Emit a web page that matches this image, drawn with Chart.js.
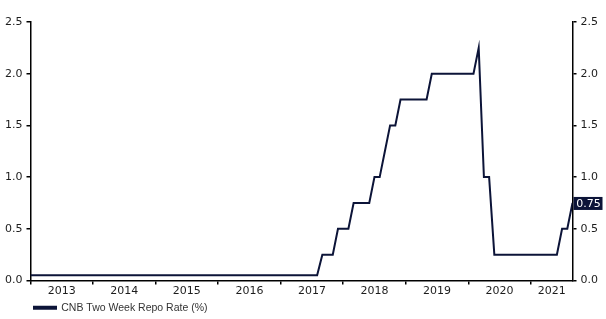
<!DOCTYPE html>
<html>
<head>
<meta charset="utf-8">
<script src="https://cdn.jsdelivr.net/npm/chart.js@4.4.1/dist/chart.umd.min.js"></script>
<style>
  html, body { margin: 0; padding: 0; background: #fff; }
  #wrap { width: 606px; height: 319px; position: relative; }
</style>
</head>
<body>
<div id="wrap"><canvas id="chart"></canvas></div>
<script>
const SERIES_LABEL = 'CNB Two Week Repo Rate (%)';
const START_YEAR = 2013; // first monthly point = Jan 2013
const yearLabels = ['2013', '2014', '2015', '2016', '2017', '2018', '2019', '2020', '2021'];
const yTicks = [0, 0.5, 1, 1.5, 2, 2.5];

// monthly readings, one row per year (2021 runs to Sep)
const repoRate = [
  0.05, 0.05, 0.05, 0.05, 0.05, 0.05, 0.05, 0.05, 0.05, 0.05, 0.05, 0.05,
  0.05, 0.05, 0.05, 0.05, 0.05, 0.05, 0.05, 0.05, 0.05, 0.05, 0.05, 0.05,
  0.05, 0.05, 0.05, 0.05, 0.05, 0.05, 0.05, 0.05, 0.05, 0.05, 0.05, 0.05,
  0.05, 0.05, 0.05, 0.05, 0.05, 0.05, 0.05, 0.05, 0.05, 0.05, 0.05, 0.05,
  0.05, 0.05, 0.05, 0.05, 0.05, 0.05, 0.05, 0.05, 0.25, 0.25, 0.25, 0.5,
  0.5, 0.5, 0.75, 0.75, 0.75, 0.75, 1.0, 1.0, 1.25, 1.5, 1.5, 1.75,
  1.75, 1.75, 1.75, 1.75, 1.75, 2.0, 2.0, 2.0, 2.0, 2.0, 2.0, 2.0,
  2.0, 2.0, 2.25, 1.0, 1.0, 0.25, 0.25, 0.25, 0.25, 0.25, 0.25, 0.25,
  0.25, 0.25, 0.25, 0.25, 0.25, 0.25, 0.5, 0.5, 0.75
];

const NAVY = '#0c1438';
const INK = '#1c1c1c';
const tickFont = { family: 'DejaVu Sans', size: 11 };

const lastIdx = repoRate.length - 1;
const points = repoRate.map((v, i) => ({ x: i, y: v }));

// year boundaries get a tick mark, year middles get the label
const boundaries = yearLabels.map((y, i) => i * 12);
const labelAt = {};
yearLabels.forEach((y, i) => {
  const a = i * 12, b = Math.min(a + 12, lastIdx);
  labelAt[(a + b) / 2] = y;
});
const isBoundary = v => boundaries.includes(v);

const valueTag = {
  id: 'valueTag',
  afterLayout(chart) {
    // legend sits a bit in from the left edge and a little lower
    const lg = chart.legend;
    lg.left += 31; lg.right += 31;
    lg.top += 3; lg.bottom += 3;
  },
  afterDraw(chart) {
    const { ctx, chartArea } = chart;
    const v = repoRate[lastIdx];
    const y = chart.scales.y.getPixelForValue(v);
    const x = chartArea.right + 1;
    ctx.save();
    ctx.fillStyle = NAVY;
    ctx.fillRect(x, y - 6, 29, 13);
    ctx.fillStyle = '#fff';
    ctx.font = '11px "DejaVu Sans"';
    ctx.textBaseline = 'middle';
    ctx.textAlign = 'center';
    ctx.fillText(v.toFixed(2), x + 15, y + 1);
    ctx.restore();
  }
};

function yAxis(pos) {
  return {
    position: pos,
    min: 0,
    max: 2.5,
    afterBuildTicks: s => { s.ticks = yTicks.map(v => ({ value: v })); },
    ticks: { font: tickFont, color: INK, padding: 4, callback: v => v.toFixed(1) },
    grid: { drawOnChartArea: false, tickLength: 4, tickColor: '#000', lineWidth: 1.5 },
    border: { color: '#000', width: 1.5 }
  };
}

new Chart(document.getElementById('chart'), {
  type: 'line',
  data: {
    datasets: [{
      label: SERIES_LABEL,
      data: points,
      yAxisID: 'y',
      borderColor: NAVY,
      backgroundColor: NAVY,
      borderWidth: 2,
      pointRadius: 0,
      tension: 0,
      fill: false
    }]
  },
  options: {
    responsive: true,
    maintainAspectRatio: false,
    animation: false,
    layout: { padding: { top: 22, left: 1, right: 4, bottom: -1 } },
    scales: {
      x: {
        type: 'linear',
        min: 0,
        max: lastIdx,
        afterBuildTicks: s => {
          const vals = [...boundaries, ...Object.keys(labelAt).map(Number)].sort((a, b) => a - b);
          s.ticks = vals.map(v => ({ value: v }));
        },
        ticks: { autoSkip: false, maxRotation: 0, font: { ...tickFont, lineHeight: 1 }, color: INK,
                 padding: 1, callback: v => labelAt[v] || '' },
        grid: { drawOnChartArea: false, tickLength: 4, lineWidth: 1.5,
                tickColor: c => (c.tick && isBoundary(c.tick.value)) ? '#000' : 'rgba(0,0,0,0)' },
        border: { color: '#000', width: 1.5 }
      },
      y: yAxis('left'),
      y2: yAxis('right')
    },
    plugins: {
      legend: {
        position: 'bottom',
        align: 'start',
        labels: { boxWidth: 22, boxHeight: 2, padding: 2, color: '#333',
                  font: { family: 'Liberation Sans', size: 10.5 } }
      },
      tooltip: { enabled: false }
    }
  },
  plugins: [valueTag]
});
</script>
</body>
</html>
